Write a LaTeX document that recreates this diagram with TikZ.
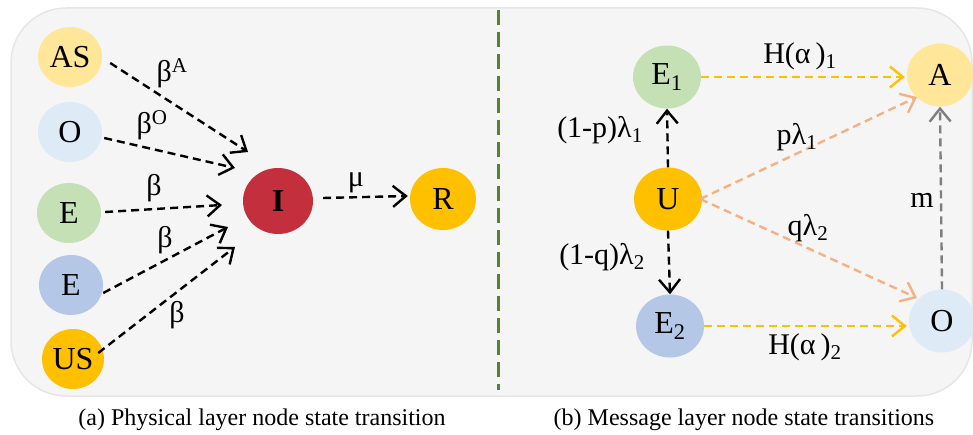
\documentclass[tikz,border=0pt]{standalone}
\usepackage{fontspec}
\setmainfont{Liberation Serif}
\usetikzlibrary{arrows.meta,shapes.geometric}
\definecolor{bgfill}{HTML}{F5F5F5}
\definecolor{bgline}{HTML}{E6E6E6}
\definecolor{cyel}{HTML}{FFE699}
\definecolor{cblu}{HTML}{DEEBF7}
\definecolor{cgrn}{HTML}{C5E0B4}
\definecolor{cbl2}{HTML}{B4C7E7}
\definecolor{corg}{HTML}{FFC000}
\definecolor{cred}{HTML}{C42F3D}
\definecolor{cdiv}{HTML}{548235}
\definecolor{csal}{HTML}{F4B183}
\definecolor{cgry}{HTML}{7F7F7F}
\begin{document}
\begin{tikzpicture}[x=1pt,y=-1pt,
  st/.style={ellipse, inner sep=0pt, minimum width=64pt, minimum height=60pt, font=\fontsize{32}{32}\selectfont},
  elab/.style={font=\fontsize{30}{30}\selectfont, inner sep=0pt},
  captext/.style={font=\fontsize{24}{24}\selectfont, inner sep=0pt},
  arr/.style={line width=2.4pt, dash pattern=on 8pt off 5pt, -{Straight Barb[length=13pt,width=21pt,line width=2.4pt]}},
  blk/.style={arr, draw=black},
  org/.style={arr, draw=corg},
  sal/.style={arr, draw=csal},
  gry/.style={arr, draw=cgry}
]
\useasboundingbox (0,0) rectangle (973,435);
\draw[fill=bgfill, draw=bgline, line width=1.5pt, rounded corners=55pt] (11,8) rectangle (972,396);
\coordinate (d1) at (498,10);
\coordinate (d2) at (498,390);
\draw[cdiv, line width=3pt, dash pattern=on 15pt off 7pt] (d1) -- (d2);

% left panel nodes
\node[st, fill=cyel] (AS) at (70,57) {AS};
\node[st, fill=cblu] (O1) at (70,132) {O};
\node[st, fill=cgrn] (Eg) at (69,213) {E};
\node[st, fill=cbl2] (Eb) at (71,285) {E};
\node[st, fill=corg, minimum width=62pt] (US) at (73,359) {US};
\node[st, fill=cred, minimum width=70pt, minimum height=66pt] (I) at (278,201) {\bfseries I};
\node[st, fill=corg, minimum width=66pt, minimum height=62pt] (R) at (443,199) {R};

\coordinate (tAS) at (248,152);
\coordinate (tO) at (235,168);
\coordinate (tEg) at (222,205);
\coordinate (tEb) at (228,227);
\coordinate (tUS) at (235,247);

\draw[blk] ([shift={(8,6)}]AS.east) -- (tAS);
\draw[blk] ([shift={(2,6)}]O1.east) -- (tO);
\draw[blk] ([shift={(4,-1)}]Eg.east) -- (tEg);
\draw[blk] ([shift={(0,8)}]Eb.east) -- (tEb);
\draw[blk] ([shift={(-6,-6)}]US.east) -- (tUS);
\draw[blk] ([xshift=10pt,yshift=3pt]I.east) -- ([xshift=-2pt,yshift=3pt]R.west);

\node[elab] (lA) at (172,73) {β\textsuperscript{A}};
\node[elab] (lO) at (152,125) {β\textsuperscript{O}};
\node[elab] (lEg) at (154,188) {β};
\node[elab] (lEb) at (165,240) {β};
\node[elab] (lUS) at (177,315) {β};
\node[elab] (lmu) at (356,183) {μ};

% right panel nodes
\node[st, fill=cgrn, minimum width=68pt, minimum height=63pt] (E1) at (667,77) {E\textsubscript{1}};
\node[st, fill=cyel, minimum width=66pt, minimum height=63pt] (A) at (940,75) {A};
\node[st, fill=corg, minimum width=68pt, minimum height=63pt] (U) at (668,199) {U};
\node[st, fill=cbl2, minimum width=68pt, minimum height=63pt] (E2) at (670,326) {E\textsubscript{2}};
\node[st, fill=cblu, minimum width=66pt, minimum height=63pt] (O2) at (942,321) {O};

\draw[org] (E1.east) -- ([xshift=-2pt]A.west |- E1.east);
\draw[org] (E2.east) -- ([xshift=-2pt]O2.west |- E2.east);
\draw[blk] (U.north) -- (E1.south);
\draw[blk] (U.south) -- (E2.north);
\coordinate (tA) at (917,97);
\coordinate (tO2) at (917,298);
\draw[sal] ([xshift=-2pt]U.east) -- (tA);
\draw[sal] ([xshift=-2pt]U.east) -- (tO2);
\draw[gry] (O2.north) -- (A.south);

\node[elab] (lH1) at (800,56) {H(α\,)\textsubscript{1}};
\node[elab] (l1p) at (600,130) {(1-p)λ\textsubscript{1}};
\node[elab] (lp) at (797,137) {pλ\textsubscript{1}};
\node[elab] (lm) at (922,200) {m};
\node[elab] (lq) at (808,228) {qλ\textsubscript{2}};
\node[elab] (l1q) at (602,257) {(1-q)λ\textsubscript{2}};
\node[elab] (lH2) at (805,347) {H(α\,)\textsubscript{2}};

\node[captext] (ca) at (262,420) {(a) Physical layer node state transition};
\node[captext] (cb) at (744,420) {(b) Message layer node state transitions};
\end{tikzpicture}
\end{document}
